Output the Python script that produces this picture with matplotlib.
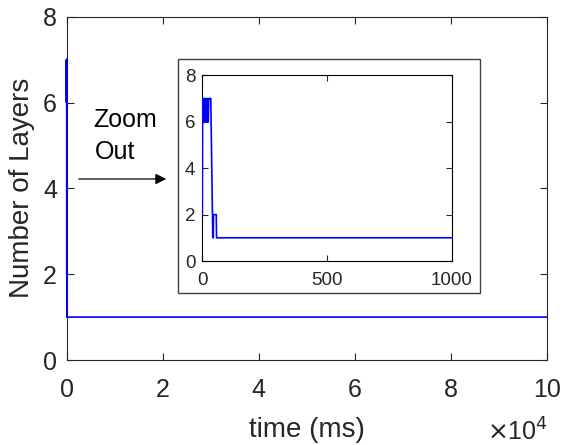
import matplotlib
matplotlib.use('Agg')
import matplotlib.pyplot as plt
from matplotlib.patches import Rectangle

plt.rcParams['font.family'] = ['Liberation Sans', 'DejaVu Sans']

# layer count vs time (ms)
time_ms = [0, 1, 2, 4, 6, 8, 10, 12, 14, 16, 18, 20, 22, 24, 26, 28, 34, 42, 44, 45, 56, 57, 100000]
layers = [2, 6, 7, 6, 7, 6, 7, 6, 7, 6, 7, 6, 7, 6, 7, 7, 7, 1, 1, 2, 2, 1, 1]

main_xticks = [0, 20000, 40000, 60000, 80000, 100000]
main_xlabels = ['0', '2', '4', '6', '8', '10']
yticks = [0, 2, 4, 6, 8]
inset_xticks = [0, 500, 1000]

txt = '#262626'
W, H = 564, 445

fig = plt.figure(figsize=(5.64, 4.45), dpi=100)

ax = fig.add_axes([66.7 / W, 1 - 360 / H, 480 / W, 343.3 / H])
ax.plot(time_ms, layers, color='#0000ff', lw=1.2, zorder=3, clip_on=False)
ax.set_xlim(0, 100000)
ax.set_ylim(0, 8)
ax.set_xticks(main_xticks)
ax.set_xticklabels(main_xlabels)
ax.set_yticks(yticks)
ax.tick_params(direction='in', length=5, width=0.8, colors=txt, labelsize=18,
               top=True, right=True)
ax.tick_params(axis='x', pad=13)
ax.tick_params(axis='y', pad=7)
for s in ax.spines.values():
    s.set_color(txt)
    s.set_linewidth(0.8)
ax.set_xlabel('time (ms)', fontsize=20, color=txt, labelpad=11)
ax.set_ylabel('Number of Layers', fontsize=20, color=txt, labelpad=6)
fig.text(487 / W, 1 - 432 / H, r'$\times$10$^4$', fontsize=18, color=txt,
         ha='left', va='center')

# frame around the inset
fig.patches.append(Rectangle((178 / W, 1 - 293 / H), 302 / W, 234 / H,
                             transform=fig.transFigure, facecolor='white',
                             edgecolor='#404040', linewidth=1.0, zorder=2))

ins = fig.add_axes([202.3 / W, 1 - 261 / H, 249.4 / W, 185.7 / H], zorder=3)
ins.plot(time_ms, layers, color='#0000ff', lw=1.2, zorder=3)
ins.set_xlim(0, 1000)
ins.set_ylim(0, 8)
ins.set_xticks(inset_xticks)
ins.set_yticks(yticks)
ins.tick_params(direction='in', length=4, width=0.8, colors=txt, labelsize=13.5,
                top=True, right=True)
ins.tick_params(axis='x', pad=8)
ins.tick_params(axis='y', pad=5)
for s in ins.spines.values():
    s.set_color('black')
    s.set_linewidth(0.8)

fig.text(93 / W, 1 - 120 / H, 'Zoom', fontsize=18, color='black', ha='left', va='center')
fig.text(95 / W, 1 - 152 / H, 'Out', fontsize=18, color='black', ha='left', va='center')
fig.add_artist(matplotlib.patches.FancyArrowPatch(
    (76 / W, 1 - 179 / H), (169 / W, 1 - 179 / H), transform=fig.transFigure,
    arrowstyle='-|>', mutation_scale=16, color='black', lw=0.9))

fig.savefig('out.png', dpi=100)
